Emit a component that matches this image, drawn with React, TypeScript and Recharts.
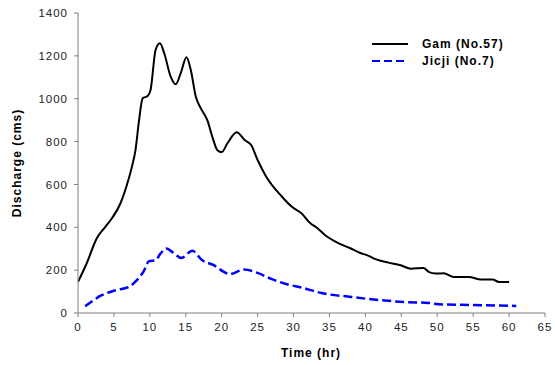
import { LineChart, Line, XAxis, YAxis, Legend } from "recharts";

const gamTime = [0, 1.2, 2.6, 3.8, 4.7, 5.9, 6.8, 7.5, 8.0, 8.5, 9.0, 9.7, 10.1, 10.8, 11.4, 12.0, 12.9, 13.6, 14.3, 15.1, 15.7, 16.4, 17.1, 18.0, 18.7, 19.4, 20.0, 20.8, 22.1, 23.2, 24.1, 25.0, 26.2, 28.3, 29.9, 31.1, 32.3, 33.2, 34.4, 36.3, 37.9, 39.3, 40.2, 41.6, 43.2, 44.9, 46.3, 48.1, 48.8, 49.8, 50.9, 52.3, 54.4, 56.1, 57.7, 58.6, 60.0];
const gamFlow = [145, 231, 348, 402, 441, 511, 597, 682, 760, 900, 1002, 1013, 1041, 1228, 1259, 1212, 1103, 1067, 1119, 1193, 1134, 1009, 955, 900, 822, 760, 751, 792, 843, 807, 784, 714, 636, 546, 492, 466, 420, 399, 363, 325, 302, 280, 270, 249, 235, 223, 207, 210, 192, 184, 185, 168, 168, 156, 156, 145, 145];

const jicjiTime = [1, 3.3, 5.2, 7.0, 8.2, 9.1, 9.9, 10.8, 11.5, 12.3, 13.1, 14.4, 15.9, 17.3, 18.9, 20.3, 21.1, 23.1, 25.0, 26.9, 29.2, 31.1, 33.9, 38.0, 40.0, 45.6, 48.8, 50.2, 54.9, 61.0];
const jicjiFlow = [31, 83, 106, 121, 153, 192, 242, 246, 278, 301, 285, 257, 290, 246, 223, 192, 181, 203, 187, 159, 133, 119, 93, 75, 67, 51, 47, 41, 37, 33];

const xTicks = [0, 5, 10, 15, 20, 25, 30, 35, 40, 45, 50, 55, 60, 65];
const yTicks = [0, 200, 400, 600, 800, 1000, 1200, 1400];

const gamData = gamTime.map((t, i) => ({ t, q: gamFlow[i] }));
const jicjiData = jicjiTime.map((t, i) => ({ t, q: jicjiFlow[i] }));

const FONT = "'Liberation Sans', Arial, sans-serif";
const AXIS = "#808080";
const tickStyle = { fontSize: 11.5, fill: "#222", fontFamily: FONT, letterSpacing: 1 };

function LegendBox() {
  const row = (label: string, color: string, dash?: string) => (
    <div style={{ display: "flex", alignItems: "center", height: 17 }}>
      <svg width={38} height={6} style={{ marginRight: 13 }}>
        <line x1={1} y1={3} x2={37} y2={3} stroke={color} strokeWidth={2} strokeDasharray={dash} />
      </svg>
      <span style={{ fontFamily: FONT, fontWeight: "bold", fontSize: 12, letterSpacing: 1, color: "#000" }}>{label}</span>
    </div>
  );
  return (
    <div>
      {row("Gam (No.57)", "#000")}
      {row("Jicji (No.7)", "#0000ff", "8 4")}
    </div>
  );
}

export default function App() {
  return (
    <div style={{ position: "absolute", left: 0, top: 0, width: 555, height: 365, background: "#fff" }}>
      <LineChart width={555} height={365} margin={{ top: 13, right: 10, left: 0, bottom: 0 }}>
        <XAxis
          dataKey="t"
          type="number"
          domain={[0, 65]}
          ticks={xTicks}
          interval={0}
          allowDataOverflow
          stroke={AXIS}
          tickSize={4}
          tickMargin={6}
          tick={tickStyle}
          height={52}
          label={{
            content: () => (
              <text x={311} y={357} textAnchor="middle" fontFamily={FONT} fontWeight="bold" fontSize={12} letterSpacing={1} fill="#000">
                Time (hr)
              </text>
            ),
          }}
        />
        <XAxis xAxisId="top" orientation="top" type="number" domain={[0, 65]} tick={false} tickLine={false} height={0} stroke={AXIS} />
        <YAxis
          type="number"
          domain={[0, 1400]}
          ticks={yTicks}
          interval={0}
          stroke={AXIS}
          tickSize={4}
          tickMargin={6}
          tick={tickStyle}
          width={78}
          label={{
            content: () => (
              <text x={21} y={163} transform="rotate(-90 21 163)" textAnchor="middle" fontFamily={FONT} fontWeight="bold" fontSize={12} letterSpacing={1} fill="#000">
                Discharge (cms)
              </text>
            ),
          }}
        />
        <YAxis yAxisId="right" orientation="right" domain={[0, 1400]} tick={false} tickLine={false} width={0} stroke={AXIS} />
        <Legend
          layout="horizontal"
          verticalAlign="middle"
          align="center"
          content={<LegendBox />}
          wrapperStyle={{ position: "absolute", top: 35, left: 371, width: 160 }}
        />
        <Line
          data={gamData}
          dataKey="q"
          name="Gam (No.57)"
          type="monotone"
          stroke="#000"
          strokeWidth={2}
          dot={false}
          isAnimationActive={false}
        />
        <Line
          data={jicjiData}
          dataKey="q"
          name="Jicji (No.7)"
          type="monotone"
          stroke="#0000ff"
          strokeWidth={2.5}
          strokeDasharray="9 4"
          dot={false}
          isAnimationActive={false}
        />
      </LineChart>
    </div>
  );
}
